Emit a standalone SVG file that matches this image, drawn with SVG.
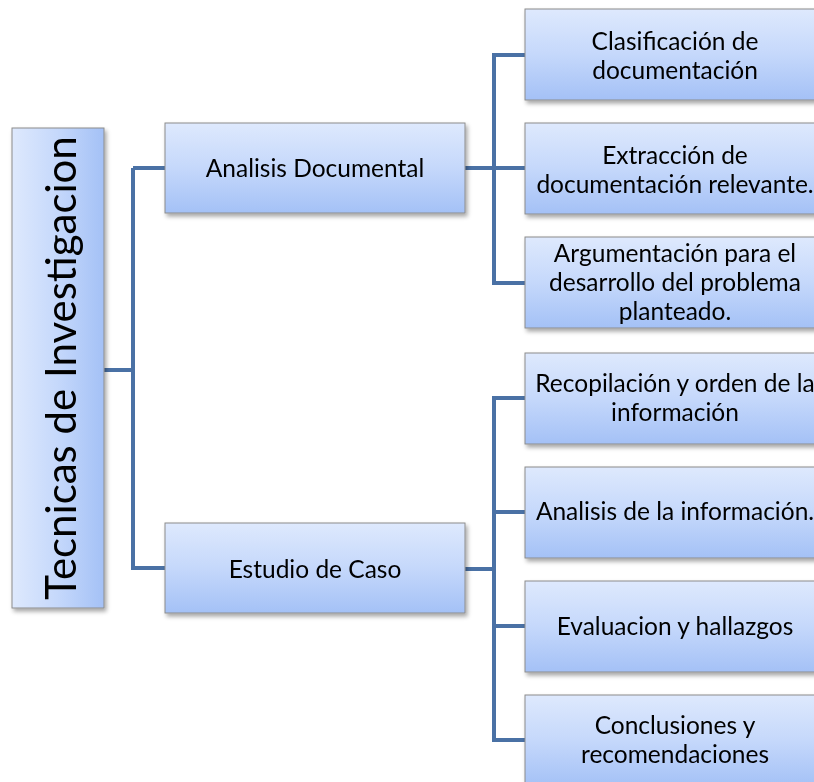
<svg xmlns="http://www.w3.org/2000/svg" width="814" height="782" viewBox="0 0 814 782">
<style>
.box{stroke:#8c8c8c;stroke-width:1;fill:url(#g)}
.root{stroke:#8c8c8c;stroke-width:1;fill:url(#gh)}
.t{font-family:Lato,"Liberation Sans",sans-serif;font-size:24.5px;fill:#000;text-anchor:middle}
.rt{font-family:Lato,"Liberation Sans",sans-serif;font-size:42px;fill:#000;text-anchor:middle}
.c{fill:none;stroke:#4a71a5;stroke-width:4;stroke-linejoin:miter}
</style>
<defs>
<linearGradient id="g" x1="0" y1="0" x2="0" y2="1">
<stop offset="0" stop-color="#dee9fd"/>
<stop offset="0.5" stop-color="#c5d8fb"/>
<stop offset="1" stop-color="#a4c1f6"/>
</linearGradient>
<linearGradient id="gh" x1="0" y1="0" x2="1" y2="0">
<stop offset="0" stop-color="#dee9fd"/>
<stop offset="0.5" stop-color="#c5d8fb"/>
<stop offset="1" stop-color="#a4c1f6"/>
</linearGradient>
<filter id="sh" x="-10%" y="-10%" width="130%" height="130%">
<feDropShadow dx="2" dy="3" stdDeviation="2" flood-color="#000" flood-opacity="0.35"/>
</filter>
</defs>
<g id="connectors">
<path class="c" d="M104 370 H133 M133 168 V570 M133 168 H165 M133 568 H165"/>
<path class="c" d="M465 168 H525 M525 55 H494 V283 H525"/>
<path class="c" d="M465 569 H494 M525 398 H494 V740 H525 M494 512 H525 M494 626 H525"/>
</g>
<g id="root" filter="url(#sh)">
<rect class="root" x="12" y="128" width="92" height="480"/>
<text class="rt" transform="translate(76 368) rotate(-90)">Tecnicas de Investigacion</text>
</g>
<g id="n-analisis" filter="url(#sh)">
<rect class="box" x="165" y="123" width="300" height="90"/>
<text class="t" x="315" y="177">Analisis Documental</text>
</g>
<g id="n-estudio" filter="url(#sh)">
<rect class="box" x="165" y="523" width="300" height="90"/>
<text class="t" x="315" y="578">Estudio de Caso</text>
</g>
<g id="n-clasif" filter="url(#sh)">
<rect class="box" x="525" y="9" width="294" height="91"/>
<text class="t" x="675" y="50">Clasificación de</text>
<text class="t" x="675" y="79">documentación</text>
</g>
<g id="n-extrac" filter="url(#sh)">
<rect class="box" x="525" y="123" width="294" height="91"/>
<text class="t" x="675" y="164">Extracción de</text>
<text class="t" x="675" y="193">documentación relevante.</text>
</g>
<g id="n-argum" filter="url(#sh)">
<rect class="box" x="525" y="237" width="294" height="91"/>
<text class="t" x="675" y="262">Argumentación para el</text>
<text class="t" x="675" y="291">desarrollo del problema</text>
<text class="t" x="675" y="320">planteado.</text>
</g>
<g id="n-recop" filter="url(#sh)">
<rect class="box" x="525" y="353" width="294" height="91"/>
<text class="t" x="675" y="392">Recopilación y orden de la</text>
<text class="t" x="675" y="421">información</text>
</g>
<g id="n-anainfo" filter="url(#sh)">
<rect class="box" x="525" y="467" width="294" height="91"/>
<text class="t" x="675" y="520">Analisis de la información.</text>
</g>
<g id="n-eval" filter="url(#sh)">
<rect class="box" x="525" y="581" width="294" height="91"/>
<text class="t" x="675" y="635">Evaluacion y hallazgos</text>
</g>
<g id="n-concl" filter="url(#sh)">
<rect class="box" x="525" y="695" width="294" height="91"/>
<text class="t" x="675" y="734">Conclusiones y</text>
<text class="t" x="675" y="763">recomendaciones</text>
</g>
</svg>
